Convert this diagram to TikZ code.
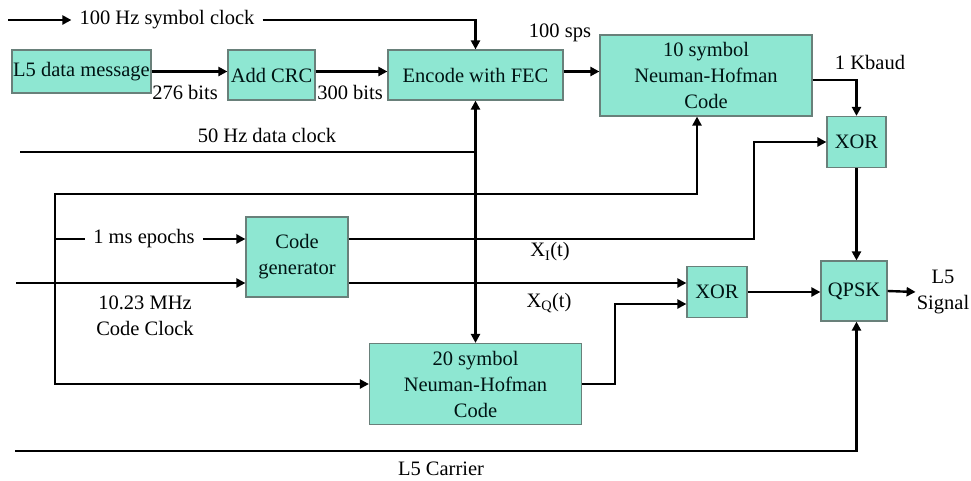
\documentclass[tikz,border=0pt]{standalone}
\usepackage{fontspec}
\setmainfont{Liberation Serif}
\usetikzlibrary{arrows.meta}
\definecolor{boxfill}{RGB}{142,231,210}
\definecolor{boxline}{RGB}{105,128,122}
\tikzset{x=1pt,y=-1pt,
    every node/.style={
        font=\fontsize{20.5}{26}\selectfont},
    box/.style={
        draw=boxline,
        line width=1.2pt,
        fill=boxfill,
        text=black!85!teal,
        align=center,
        inner sep=0pt},
    lbl/.style={
        align=center,
        inner sep=1pt},
    wire/.style={
        line width=2.4pt},
    >={Triangle[length=9pt,width=9pt]}}

\begin{document}
\begin{tikzpicture}
        \useasboundingbox (0,0) rectangle (971,480);

        \node[box,minimum width=139,minimum height=43] (1) at (81.5,71.5) {L5 data message};
        \node[box,minimum width=87,minimum height=50] (2) at (271.5,75) {Add CRC};
        \node[box,minimum width=175,minimum height=50] (3) at (475.5,75) {Encode with FEC};
        \node[box,minimum width=212,minimum height=81] (4) at (706,75.5) {10 symbol\\Neuman-Hofman\\Code};
        \node[box,minimum width=59,minimum height=51] (5) at (856.5,142) {XOR};
        \node[box,minimum width=102,minimum height=80] (6) at (297,257) {Code\\generator};
        \node[box,minimum width=60,minimum height=51] (7) at (717,292) {XOR};
        \node[box,minimum width=66,minimum height=60] (8) at (854,291) {QPSK};
        \node[box,minimum width=212,minimum height=81] (9) at (475.5,384) {20 symbol\\Neuman-Hofman\\Code};

        \node[lbl,inner xsep=8pt] (symclk) at (167,20) {100 Hz symbol clock};
        \node[lbl,inner xsep=8pt] (ep) at (144,239) {1 ms epochs};
        \node[lbl] (sig) at (943,292) {L5\\Signal};
        \node[lbl] at (185,92) {276 bits};
        \node[lbl] at (350,92) {300 bits};
        \node[lbl] at (560,33) {100 sps};
        \node[lbl] at (870,62) {1 Kbaud};
        \node[lbl] at (267,135) {50 Hz data clock};
        \node[lbl] at (145,316) {10.23 MHz\\Code Clock};
        \node[lbl] at (550,252) {X\textsubscript{I}(t)};
        \node[lbl] at (549,303) {X\textsubscript{Q}(t)};
        \node[lbl] at (441,469) {L5 Carrier};

        \coordinate (s0) at (8,20);
        \coordinate (d0) at (20,152);
        \coordinate (lp1) at (55,194);
        \coordinate (lp2) at (55,384);
        \coordinate (clk) at (16,283);
        \coordinate (xi) at (754,239);
        \coordinate (xq) at (615,304);
        \coordinate (car) at (15,451);

        \draw[wire,->] (s0) -- (symclk.west);
        \draw[wire,->] (symclk.east) -| (3.north);
        \draw[wire,->] (1.east) -- (1.east -| 2.west);
        \draw[wire,->] (1.east -| 2.east) -- (1.east -| 3.west);
        \draw[wire,->] (1.east -| 3.east) -- (1.east -| 4.west);
        \draw[wire,->] ([yshift=-4.5pt]4.east) -| (5.north);
        \draw[wire,->] (5.south) -- (5.south |- 8.north);
        \draw[wire] (d0) -- (d0 -| 3.south);
        \draw[wire,<->] (3.south) -- (3.south |- 9.north);
        \draw[wire,<->] ([xshift=-9pt]4.south) |- (lp1) -- (lp2) -- (9.west);
        \draw[wire] (lp1 |- ep) -- (ep.west);
        \draw[wire,->] (ep.east) -- (ep.east -| 6.west);
        \draw[wire,->] (clk) -- (clk -| 6.west);
        \draw[wire,->] (ep -| 6.east) -- (xi) |- (5.west);
        \draw[wire,->] (clk -| 6.east) -- (clk -| 7.west);
        \draw[wire,->] (9.east) -| (xq) -- (xq -| 7.west);
        \draw[wire,->] (7.east) -- (7.east -| 8.west);
        \draw[wire,->] (8.east) -- (sig.west);
        \draw[wire,->] (car) -| (5.south |- 8.south);
    \end{tikzpicture}
\end{document}
